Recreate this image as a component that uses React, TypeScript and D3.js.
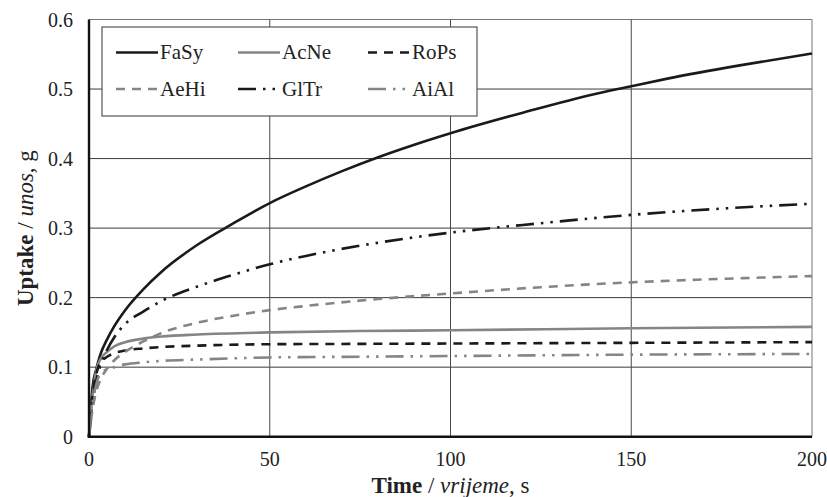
import React, { useEffect, useRef } from 'react';
import * as d3 from 'd3';

// time points (s) and uptake values (g)
const timeA = [0, 1, 2, 3, 5, 7, 10, 15, 20, 30, 40, 50, 60, 70, 80, 90, 100, 120, 140, 150, 160, 180, 200];
const fasy = [0, 0.072, 0.097, 0.116, 0.14, 0.159, 0.182, 0.212, 0.237, 0.276, 0.307, 0.336, 0.36, 0.382, 0.402, 0.42, 0.4365, 0.466, 0.493, 0.504, 0.515, 0.534, 0.551];

const timeB = [0, 1, 2, 3, 5, 7, 10, 15, 20, 30, 40, 50, 60, 80, 100, 125, 150, 175, 200];
const gltr = [0, 0.05, 0.08, 0.1, 0.125, 0.143, 0.162, 0.18, 0.195, 0.216, 0.233, 0.248, 0.26, 0.279, 0.2935, 0.307, 0.319, 0.328, 0.335];
const aehi = [0, 0.04, 0.065, 0.08, 0.098, 0.11, 0.122, 0.137, 0.149, 0.164, 0.174, 0.182, 0.188, 0.198, 0.206, 0.215, 0.222, 0.227, 0.231];

const timeC = [0, 1, 2, 3, 5, 7, 10, 15, 20, 30, 50, 75, 100, 150, 200];
const acne = [0, 0.06, 0.095, 0.11, 0.122, 0.13, 0.136, 0.141, 0.144, 0.147, 0.15, 0.152, 0.153, 0.156, 0.158];
const rops = [0, 0.06, 0.09, 0.105, 0.115, 0.12, 0.124, 0.127, 0.129, 0.131, 0.133, 0.1335, 0.134, 0.135, 0.136];
const aial = [0, 0.05, 0.075, 0.09, 0.097, 0.1, 0.104, 0.107, 0.109, 0.111, 0.114, 0.115, 0.116, 0.118, 0.119];

const xTicks = [0, 50, 100, 150, 200];
const yTicks = [0, 0.1, 0.2, 0.3, 0.4, 0.5, 0.6];

const series = [
  { name: 'FaSy', t: timeA, v: fasy, color: '#1a1a1a', dash: '' },
  { name: 'AcNe', t: timeC, v: acne, color: '#858585', dash: '' },
  { name: 'RoPs', t: timeC, v: rops, color: '#1a1a1a', dash: '9,7' },
  { name: 'AeHi', t: timeB, v: aehi, color: '#858585', dash: '9,7' },
  { name: 'GlTr', t: timeB, v: gltr, color: '#1a1a1a', dash: '18,7,2.5,7,2.5,7' },
  { name: 'AiAl', t: timeC, v: aial, color: '#858585', dash: '18,7,2.5,7,2.5,7' },
];

export default function App() {
  const ref = useRef<SVGSVGElement>(null);

  useEffect(() => {
    const width = 827;
    const height = 497;
    const left = 89, right = 812, top = 19.5, bottom = 436.7;
    const font = 'Liberation Serif';

    const svg = d3.select(ref.current)
      .attr('width', width)
      .attr('height', height)
      .attr('font-family', font)
      .style('background', 'white');
    svg.selectAll('*').remove();

    const x = d3.scaleLinear().domain([0, 200]).range([left, right]);
    const y = d3.scaleLinear().domain([0, 0.6]).range([bottom, top]);

    // grid
    svg.append('g').selectAll('line')
      .data(yTicks.slice(1))
      .enter().append('line')
      .attr('x1', left).attr('x2', right)
      .attr('y1', d => y(d)).attr('y2', d => y(d))
      .attr('stroke', (d, i) => (i === yTicks.length - 2 ? '#777' : '#3a3a3a'))
      .attr('stroke-width', 1);
    svg.append('g').selectAll('line')
      .data(xTicks.slice(1))
      .enter().append('line')
      .attr('x1', d => x(d)).attr('x2', d => x(d))
      .attr('y1', top).attr('y2', bottom)
      .attr('stroke', (d, i) => (i === xTicks.length - 2 ? '#777' : '#4a4a4a'))
      .attr('stroke-width', 1);

    // curves
    const line = d3.line<[number, number]>()
      .x(d => x(d[0]))
      .y(d => y(d[1]))
      .curve(d3.curveMonotoneX);
    series.forEach(s => {
      const pts: [number, number][] = s.t.map((t, i) => [t, s.v[i]]);
      svg.append('path')
        .attr('d', line(pts))
        .attr('fill', 'none')
        .attr('stroke', s.color)
        .attr('stroke-width', 2.6)
        .attr('stroke-dasharray', s.dash || null);
    });

    // axes lines
    svg.append('line')
      .attr('x1', left).attr('x2', left).attr('y1', top).attr('y2', bottom + 1.2)
      .attr('stroke', '#111').attr('stroke-width', 2.4);
    svg.append('line')
      .attr('x1', left - 1.2).attr('x2', right).attr('y1', bottom).attr('y2', bottom)
      .attr('stroke', '#111').attr('stroke-width', 2.6);

    // tick labels
    svg.append('g').selectAll('text')
      .data(yTicks)
      .enter().append('text')
      .attr('x', 73)
      .attr('y', d => y(d))
      .attr('dy', '0.35em')
      .attr('text-anchor', 'end')
      .attr('font-family', font)
      .attr('font-size', 20)
      .attr('fill', '#222')
      .text(d => (d === 0 ? '0' : d3.format('.1f')(d)));
    svg.append('g').selectAll('text')
      .data(xTicks)
      .enter().append('text')
      .attr('x', d => x(d))
      .attr('y', 466)
      .attr('text-anchor', 'middle')
      .attr('font-family', font)
      .attr('font-size', 20)
      .attr('fill', '#222')
      .text(d => String(d));

    // axis titles
    const xt = svg.append('text')
      .attr('x', (left + right) / 2)
      .attr('y', 493)
      .attr('text-anchor', 'middle')
      .attr('font-family', font)
      .attr('font-size', 23)
      .attr('fill', '#222');
    xt.append('tspan').attr('font-weight', 'bold').text('Time');
    xt.append('tspan').text(' / ');
    xt.append('tspan').attr('font-style', 'italic').text('vrijeme');
    xt.append('tspan').text(', s');

    const yt = svg.append('text')
      .attr('transform', `translate(33, ${(top + bottom) / 2}) rotate(-90)`)
      .attr('text-anchor', 'middle')
      .attr('font-family', font)
      .attr('font-size', 23)
      .attr('fill', '#222');
    yt.append('tspan').attr('font-weight', 'bold').text('Uptake');
    yt.append('tspan').text(' / ');
    yt.append('tspan').attr('font-style', 'italic').text('unos');
    yt.append('tspan').text(', g');

    // legend
    const lg = svg.append('g');
    lg.append('rect')
      .attr('x', 102).attr('y', 27).attr('width', 375).attr('height', 89)
      .attr('fill', 'white').attr('stroke', '#555').attr('stroke-width', 1.2);
    const colX = [116, 238, 368];
    const rowY = [52.5, 89];
    series.forEach((s, i) => {
      const cx = colX[i % 3];
      const cy = rowY[Math.floor(i / 3)];
      lg.append('line')
        .attr('x1', cx).attr('x2', cx + 42)
        .attr('y1', cy).attr('y2', cy)
        .attr('stroke', s.color)
        .attr('stroke-width', 2.6)
        .attr('stroke-dasharray', s.dash || null);
      lg.append('text')
        .attr('x', cx + 44)
        .attr('y', cy)
        .attr('dy', '0.33em')
        .attr('font-family', font)
        .attr('font-size', 21)
        .attr('fill', '#222')
        .text(s.name);
    });
  }, []);

  return (
    <div>
      <svg ref={ref} style={{ position: 'absolute', left: 0, top: 0 }}></svg>
    </div>
  );
}
